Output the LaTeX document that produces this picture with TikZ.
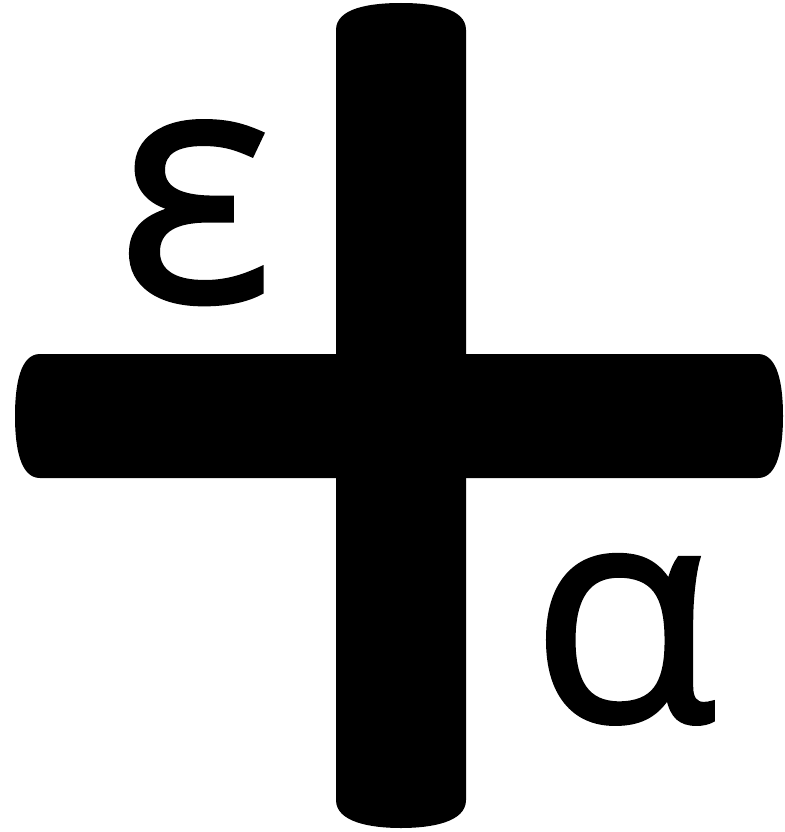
\documentclass[tikz,border=0pt]{standalone}
\usepackage{fontspec}
\setmainfont{Open Sans}
\newfontfamily\greekfont[FakeBold=1.3]{Open Sans}
\usetikzlibrary{positioning}

\begin{document}
\begin{tikzpicture}[
    x=1pt, y=-1pt,
    bar/.style={fill=black, draw=none},
    letter/.style={inner sep=0pt, anchor=base}
]
\useasboundingbox (0,0) rectangle (784,832);
% vertical bar
\path[bar] (336,30) .. controls (336,8) and (370,3) .. (401,3) .. controls (432,3) and (466,8) .. (466,30)
    -- (466,800) .. controls (466,822) and (432,828) .. (401,828) .. controls (370,828) and (336,822) .. (336,800) -- cycle;
% horizontal bar
\path[bar] (40,354) -- (758,354) .. controls (778,354) and (783,385) .. (783,416) .. controls (783,447) and (778,478) .. (758,478)
    -- (40,478) .. controls (20,478) and (15,447) .. (15,416) .. controls (15,385) and (20,354) .. (40,354) -- cycle;
\node[letter, font=\greekfont\fontsize{330}{330}\selectfont] (eps) at (195,301) {ε};
\node[letter, font=\greekfont\fontsize{305}{305}\selectfont] (alpha) at (624,721) {α};
\end{tikzpicture}
\end{document}
